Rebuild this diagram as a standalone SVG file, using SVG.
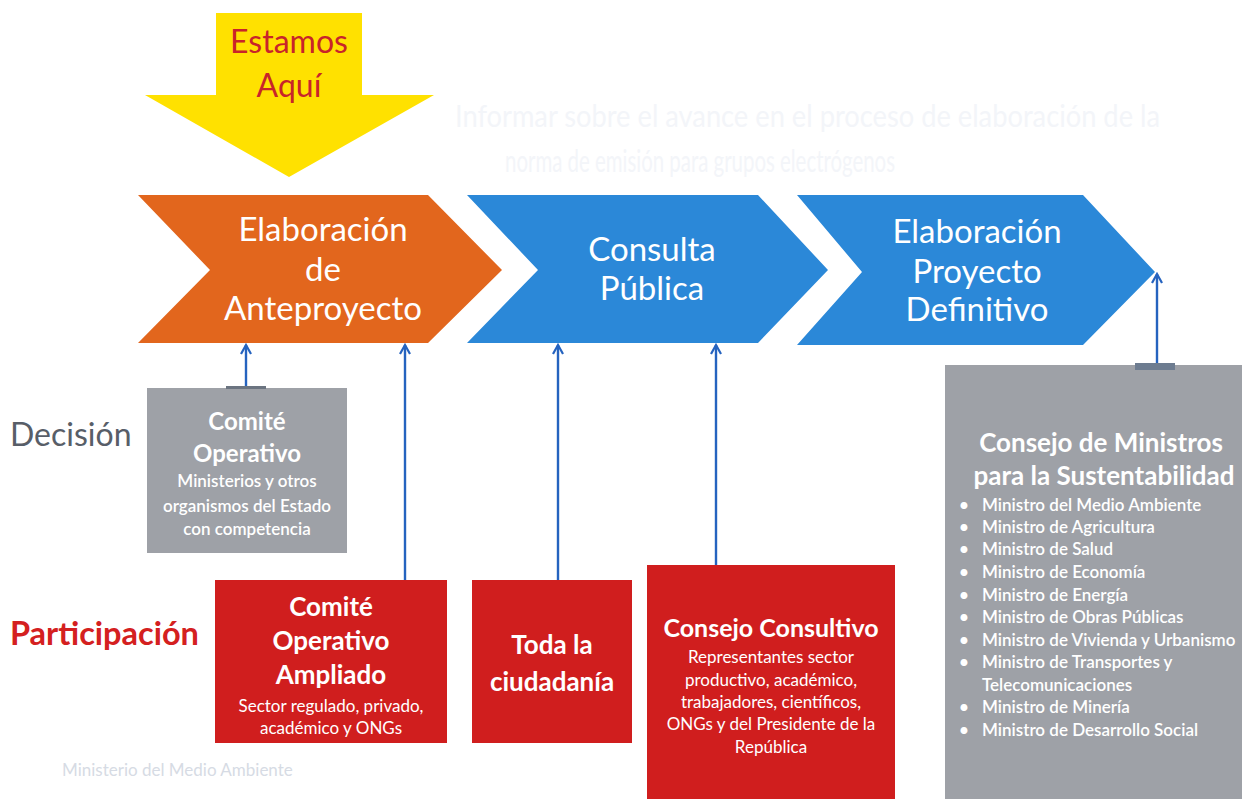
<svg xmlns="http://www.w3.org/2000/svg" width="1242" height="799" viewBox="0 0 1242 799">
<style>
  .lato { font-family: Lato, "Open Sans", "Liberation Sans", sans-serif; }
  .chev { fill: #ffffff; font-size: 33px; text-anchor: middle; }
  .wbold { fill: #ffffff; font-weight: bold; text-anchor: middle; }
  .wsub { fill: #ffffff; font-size: 17px; text-anchor: middle; }
  .li { fill: #ffffff; font-size: 17px; }
  .conn { stroke: #2563bf; stroke-width: 2.4; fill: none; marker-end: url(#open); }
  .ghost { fill: #f3f5f9; }
</style>
<defs>
  <marker id="open" viewBox="0 0 12 12" refX="10" refY="6" markerWidth="12" markerHeight="12" markerUnits="userSpaceOnUse" orient="auto">
    <path d="M1,1 L10,6 L1,11" fill="none" stroke="#2563bf" stroke-width="2.2"/>
  </marker>
</defs>
<rect width="1242" height="799" fill="#ffffff"/>

<g id="ghost" class="lato">
  <text class="ghost" x="455" y="127" font-size="30" textLength="705" lengthAdjust="spacingAndGlyphs">Informar sobre el avance en el proceso de elaboración de la</text>
  <text class="ghost" x="505" y="172" font-size="30" textLength="390" lengthAdjust="spacingAndGlyphs">norma de emisión para grupos electrógenos</text>
</g>

<g id="estamos-aqui" class="lato">
  <path d="M216,13 L362,13 L362,95 L434,95 L289,177 L145,95 L216,95 Z" fill="#ffe100"/>
  <text x="289" y="53" font-size="32" fill="#c8242a" text-anchor="middle">Estamos</text>
  <text x="289" y="97" font-size="32" fill="#c8242a" text-anchor="middle">Aquí</text>
</g>

<g id="elaboracion-anteproyecto" class="lato">
  <path d="M138,195 L428,195 L502,270 L428,343 L138,343 L210,270 Z" fill="#e2661d"/>
  <text class="chev" x="323" y="241">Elaboración</text>
  <text class="chev" x="323" y="281">de</text>
  <text class="chev" x="323" y="320">Anteproyecto</text>
</g>

<g id="consulta-publica" class="lato">
  <path d="M467,195 L758,195 L828,270 L758,343 L467,343 L538,270 Z" fill="#2b88d8"/>
  <text class="chev" x="652" y="261">Consulta</text>
  <text class="chev" x="652" y="300">Pública</text>
</g>

<g id="elaboracion-definitivo" class="lato">
  <path d="M797,195 L1083,195 L1155,272 L1083,345 L797,345 L862,272 Z" fill="#2b88d8"/>
  <text class="chev" x="977" y="243">Elaboración</text>
  <text class="chev" x="977" y="283">Proyecto</text>
  <text class="chev" x="977" y="321">Definitivo</text>
</g>

<g id="label-decision" class="lato">
  <text x="10" y="446" font-size="32" fill="#585e68">Decisión</text>
</g>
<g id="label-participacion" class="lato">
  <text x="10" y="645" font-size="32.5" font-weight="bold" fill="#d42020">Participación</text>
</g>

<g id="comite-operativo" class="lato">
  <rect x="147" y="388" width="200" height="165" fill="#9ea1a7"/>
  <rect x="226" y="386" width="40" height="3" fill="#6b7480"/>
  <text class="wbold" x="247" y="430" font-size="24">Comité</text>
  <text class="wbold" x="247" y="462" font-size="24">Operativo</text>
  <text class="wsub" x="247" y="487" font-weight="600">Ministerios y otros</text>
  <text class="wsub" x="247" y="512" font-weight="600">organismos del Estado</text>
  <text class="wsub" x="247" y="535" font-weight="600">con competencia</text>
</g>

<g id="comite-operativo-ampliado" class="lato">
  <rect x="215" y="580" width="232" height="163" fill="#d01e1e"/>
  <text class="wbold" x="331" y="616" font-size="26">Comité</text>
  <text class="wbold" x="331" y="650" font-size="26">Operativo</text>
  <text class="wbold" x="331" y="684" font-size="26">Ampliado</text>
  <text class="wsub" x="331" y="712" font-size="18">Sector regulado, privado,</text>
  <text class="wsub" x="331" y="734" font-size="18">académico y ONGs</text>
</g>

<g id="toda-la-ciudadania" class="lato">
  <rect x="472" y="580" width="160" height="163" fill="#d01e1e"/>
  <text class="wbold" x="552" y="654" font-size="26">Toda la</text>
  <text class="wbold" x="552" y="691" font-size="26">ciudadanía</text>
</g>

<g id="consejo-consultivo" class="lato">
  <rect x="647" y="565" width="248" height="234" fill="#d01e1e"/>
  <text class="wbold" x="771" y="637" font-size="25">Consejo Consultivo</text>
  <text class="wsub" x="771" y="663">Representantes sector</text>
  <text class="wsub" x="771" y="686">productivo, académico,</text>
  <text class="wsub" x="771" y="708">trabajadores, científicos,</text>
  <text class="wsub" x="771" y="730">ONGs y del Presidente de la</text>
  <text class="wsub" x="771" y="753">República</text>
</g>

<g id="consejo-ministros" class="lato">
  <rect x="945" y="365" width="297" height="434" fill="#9ea1a7"/>
  <rect x="1135" y="363" width="40" height="7" fill="#6d7c90"/>
  <text class="wbold" x="1101" y="452" font-size="26">Consejo de Ministros</text>
  <text class="wbold" x="1104" y="485" font-size="26">para la Sustentabilidad</text>
  <g class="li" font-weight="600">
    <text x="959" y="511">•</text><text x="982" y="511">Ministro del Medio Ambiente</text>
    <text x="959" y="533">•</text><text x="982" y="533">Ministro de Agricultura</text>
    <text x="959" y="555">•</text><text x="982" y="555">Ministro de Salud</text>
    <text x="959" y="578">•</text><text x="982" y="578">Ministro de Economía</text>
    <text x="959" y="601">•</text><text x="982" y="601">Ministro de Energía</text>
    <text x="959" y="623">•</text><text x="982" y="623">Ministro de Obras Públicas</text>
    <text x="959" y="646">•</text><text x="982" y="646">Ministro de Vivienda y Urbanismo</text>
    <text x="959" y="668">•</text><text x="982" y="668">Ministro de Transportes y</text>
    <text x="982" y="691">Telecomunicaciones</text>
    <text x="959" y="713">•</text><text x="982" y="713">Ministro de Minería</text>
    <text x="959" y="736">•</text><text x="982" y="736">Ministro de Desarrollo Social</text>
  </g>
</g>

<g id="footer" class="lato">
  <text x="62" y="776" font-size="17" fill="#d6dbe4">Ministerio del Medio Ambiente</text>
</g>

<g id="connectors">
  <line class="conn" x1="246" y1="386" x2="246" y2="345"/>
  <line class="conn" x1="405" y1="580" x2="405" y2="345"/>
  <line class="conn" x1="558" y1="580" x2="558" y2="345"/>
  <line class="conn" x1="716" y1="565" x2="716" y2="345"/>
  <line class="conn" x1="1157" y1="363" x2="1157" y2="274"/>
</g>
</svg>
